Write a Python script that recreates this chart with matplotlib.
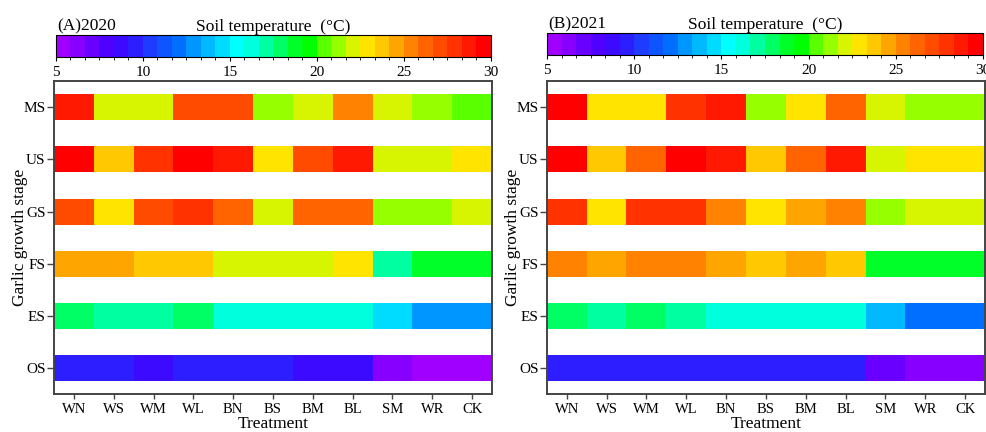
import numpy as np
import matplotlib
matplotlib.use("Agg")
import matplotlib.pyplot as plt
from matplotlib.colors import ListedColormap, BoundaryNorm

plt.rcParams['font.family'] = ['Liberation Serif', 'DejaVu Serif']

treatments = ['WN', 'WS', 'WM', 'WL', 'BN', 'BS', 'BM', 'BL', 'SM', 'WR', 'CK']
stages = ['MS', 'US', 'GS', 'FS', 'ES', 'OS']

# soil temperature (degC), rows follow `stages`
temp_2020 = [
    [28.75, 22.1, 22.1, 27.1, 27.1, 21.25, 22.1, 25.4, 22.1, 21.25, 20.4],
    [29.6, 23.75, 27.9, 29.6, 28.75, 22.9, 27.1, 28.75, 22.1, 22.1, 22.9],
    [27.1, 22.9, 27.1, 27.9, 26.25, 22.1, 26.25, 26.25, 21.25, 21.25, 22.1],
    [24.6, 24.6, 23.75, 23.75, 22.1, 22.1, 22.1, 22.9, 17.1, 18.75, 18.75],
    [17.9, 17.1, 17.1, 17.9, 16.25, 16.25, 16.25, 16.25, 14.6, 12.9, 12.9],
    [9.6, 9.6, 8.75, 9.6, 9.6, 9.6, 8.75, 8.75, 6.25, 5.4, 5.4],
]
temp_2021 = [
    [29.6, 22.9, 22.9, 27.9, 28.75, 21.25, 22.9, 26.25, 22.1, 21.25, 21.25],
    [29.6, 23.75, 26.25, 29.6, 28.75, 23.75, 26.25, 28.75, 22.1, 22.9, 22.9],
    [27.9, 22.9, 27.9, 27.9, 25.4, 22.9, 24.6, 25.4, 21.25, 22.1, 22.1],
    [25.4, 24.6, 25.4, 25.4, 24.6, 23.75, 24.6, 23.75, 18.75, 18.75, 18.75],
    [17.9, 17.1, 17.9, 17.1, 16.25, 16.25, 16.25, 16.25, 13.75, 12.1, 12.1],
    [9.6, 9.6, 9.6, 9.6, 9.6, 9.6, 9.6, 9.6, 7.1, 6.25, 6.25],
]

# 30-step rainbow palette, 5..30 degC
palette = ['#A000FF', '#8700FF', '#6900FF', '#5000FF', '#3C0AFF', '#2D1EFF',
           '#1E3CFF', '#0F55FF', '#006EFF', '#0096FF', '#00B9FF', '#00DCFF',
           '#00FFFF', '#00FFDC', '#00FFA0', '#00FF64', '#00FF28', '#00FF00',
           '#5AFF00', '#96FF00', '#D7F500', '#FFE400', '#FFC800', '#FFA500',
           '#FF8200', '#FF6400', '#FF4B00', '#FF3200', '#FF1900', '#FF0000']
cmap = ListedColormap(palette)
norm = BoundaryNorm(np.linspace(5, 30, 31), cmap.N)

fig = plt.figure(figsize=(9.87, 4.32), dpi=100)

panels = [
    ('(A)2020', temp_2020, [0.0547, 0.088, 0.4438, 0.724], [0.0567, 0.869, 0.4404, 0.050]),
    ('(B)2021', temp_2021, [0.554, 0.088, 0.444, 0.724], [0.5542, 0.873, 0.4417, 0.050]),
]

for tag, data, ax_pos, cb_pos in panels:
    ax = fig.add_axes(ax_pos)
    xe = np.arange(len(treatments) + 1) - 0.5
    mesh = None
    for i, row in enumerate(data):
        mesh = ax.pcolormesh(xe, [i - 0.25, i + 0.25], np.array([row]),
                             cmap=cmap, norm=norm)
    ax.set_xlim(-0.5, len(treatments) - 0.5)
    ax.set_ylim(len(stages) - 0.5, -0.5)
    ax.set_xticks(range(len(treatments)))
    ax.set_xticklabels(treatments, fontsize=10.5)
    ax.set_yticks(range(len(stages)))
    ax.set_yticklabels(stages, fontsize=11)
    ax.set_xlabel('Treatment', fontsize=12.5, labelpad=0)
    ax.set_ylabel('Garlic growth stage', fontsize=12.5, labelpad=-3)
    for s in ax.spines.values():
        s.set_color('#444444')
        s.set_linewidth(1.4)
    ax.tick_params(axis='y', direction='out', length=5, width=1,
                   color='#444444', pad=1)
    ax.tick_params(axis='x', direction='out', length=3.5, width=1,
                   color='#444444', pad=3)

    cax = fig.add_axes(cb_pos)
    cb = fig.colorbar(mesh, cax=cax, orientation='horizontal')
    cb.set_ticks([5, 10, 15, 20, 25, 30])
    cb.ax.tick_params(labelsize=11, length=3, width=0.8)
    cb.outline.set_linewidth(0.8)
    cax.set_title('Soil temperature  (°C)', fontsize=12.5, pad=1)
    cax.text(0.003, 1.03, tag, transform=cax.transAxes, fontsize=12.5,
             ha='left', va='bottom')

fig.savefig('out.png', dpi=100)
